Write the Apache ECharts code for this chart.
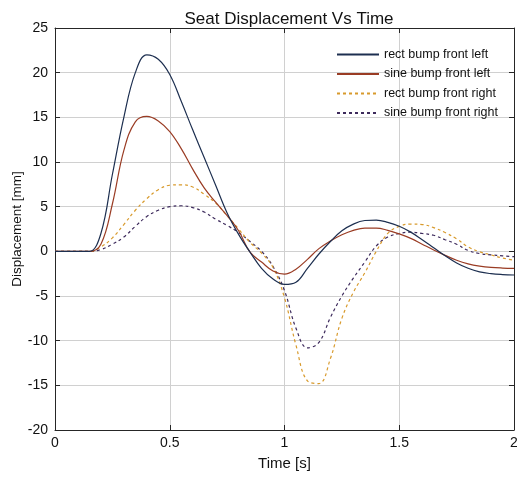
<!DOCTYPE html>
<html>
<head>
<meta charset="utf-8">
<script src="https://cdn.jsdelivr.net/npm/echarts@6/dist/echarts.min.js"></script>
<style>html,body{margin:0;padding:0;background:#fff;}#c{width:517px;height:482px;}</style>
</head>
<body>
<div id="c"></div>
<script>
const times = [0,0.05,0.1,0.15,0.2,0.25,0.3,0.35,0.4,0.45,0.5,0.55,0.6,0.65,0.7,0.75,0.8,0.85,0.9,0.95,1.0,1.05,1.1,1.15,1.2,1.25,1.3,1.35,1.4,1.45,1.5,1.55,1.6,1.65,1.7,1.75,1.8,1.85,1.9,1.95,2.0];
const rectFrontLeft = [0,0,0,0,2.0,8.6,15.0,20.0,22.0,21.5,19.8,16.8,13.6,10.5,7.4,4.3,1.9,-0.1,-1.9,-3.1,-3.7,-3.45,-1.9,-0.3,1.1,2.3,3.05,3.45,3.5,3.25,2.8,2.15,1.3,0.4,-0.5,-1.3,-1.9,-2.3,-2.5,-2.6,-2.65];
const sineFrontLeft = [0,0,0,0,0.8,5.3,11.3,14.5,15.1,14.6,13.4,11.5,9.2,7.1,5.5,4.0,2.3,-0.1,-1.2,-2.2,-2.55,-2.0,-0.9,0.3,1.15,1.85,2.35,2.6,2.6,2.35,1.95,1.45,0.8,0.15,-0.45,-1.0,-1.4,-1.65,-1.8,-1.87,-1.9];
const rectFrontRight = [0,0,0,0,0.5,1.5,3.0,4.6,5.9,6.9,7.4,7.45,7.2,6.4,5.4,4.0,2.5,1.0,-0.2,-1.8,-5.2,-10.5,-14.5,-14.8,-12.0,-7.5,-4.6,-2.4,0.0,2.0,2.8,3.05,3.0,2.65,2.1,1.4,0.5,-0.05,-0.4,-0.75,-1.0];
const sineFrontRight = [0,0,0,0,0.2,0.8,1.6,2.8,3.9,4.6,5.0,5.1,4.9,4.4,3.6,2.9,2.1,1.1,0.0,-1.7,-4.4,-8.6,-10.8,-10.2,-7.4,-5.0,-3.0,-1.2,0.6,1.6,2.0,2.15,2.0,1.8,1.3,0.8,0.1,-0.25,-0.4,-0.5,-0.6];
const seriesNames = ['rect bump front left','sine bump front left','rect bump front right','sine bump front right'];
const xTicks = [0,0.5,1,1.5,2];
const yTicks = [-20,-15,-10,-5,0,5,10,15,20,25];

const pair = arr => times.map((t,i)=>[t,arr[i]]);
const colors = ['#1d2f50','#9a3c24','#d89a2c','#3d2a5c'];
const types = ['solid','solid','dashed','dashed'];
const datas = [rectFrontLeft,sineFrontLeft,rectFrontRight,sineFrontRight];
const font = 'Liberation Sans, Arial, sans-serif';

const chart = echarts.init(document.getElementById('c'), null, {renderer:'canvas'});
const axisCommon = {
  axisLine:{show:true,onZero:false,lineStyle:{color:'#262626',width:1}},
  axisTick:{show:true,inside:true,length:5,lineStyle:{color:'#262626'}},
};
chart.setOption({
  animation:false,
  backgroundColor:'#fff',
  title:{text:'Seat Displacement Vs Time',left:284,textAlign:'center',top:6,textStyle:{fontFamily:font,fontSize:17,fontWeight:'normal',color:'#111'}},
  legend:{data:seriesNames,orient:'vertical',left:331,top:43,itemWidth:42,itemHeight:12,itemGap:6.5,
    itemStyle:{opacity:0},
    textStyle:{fontFamily:font,fontSize:12.5,color:'#111'}},
  grid:{left:55,right:3,top:28,bottom:52,containLabel:false,outerBoundsMode:'none'},
  xAxis:[
    Object.assign({type:'value',min:0,max:2,interval:0.5,position:'bottom',
      name:'Time [s]',nameLocation:'middle',nameGap:26,nameTextStyle:{fontFamily:font,fontSize:15,color:'#111'},
      axisLabel:{fontFamily:font,fontSize:14,color:'#111',margin:6,formatter:v=>String(v)},
      splitLine:{show:true,lineStyle:{color:'#d0d0d0',width:1}}},axisCommon),
    Object.assign({type:'value',min:0,max:2,interval:0.5,position:'top',axisLabel:{show:false},splitLine:{show:false}},axisCommon)
  ],
  yAxis:[
    Object.assign({type:'value',min:-20,max:25,interval:5,position:'left',
      name:'Displacement [mm]',nameLocation:'middle',nameGap:31,nameMoveOverlap:false,nameRotate:90,nameTextStyle:{fontFamily:font,fontSize:13.5,color:'#111'},
      axisLabel:{fontFamily:font,fontSize:14,color:'#111',margin:7},
      splitLine:{show:true,lineStyle:{color:'#d0d0d0',width:1}}},axisCommon),
    Object.assign({type:'value',min:-20,max:25,interval:5,position:'right',axisLabel:{show:false},splitLine:{show:false}},axisCommon)
  ],
  series: datas.map((d,i)=>({
    name:seriesNames[i],type:'line',data:pair(d),smooth:0.4,showSymbol:false,symbol:'none',
    xAxisIndex:0,yAxisIndex:0,
    lineStyle:{color:colors[i],width:1.2,type:types[i]==='dashed'?[3,3]:'solid'},
    itemStyle:{color:colors[i]},z:10-i
  }))
});
</script>
</body>
</html>
